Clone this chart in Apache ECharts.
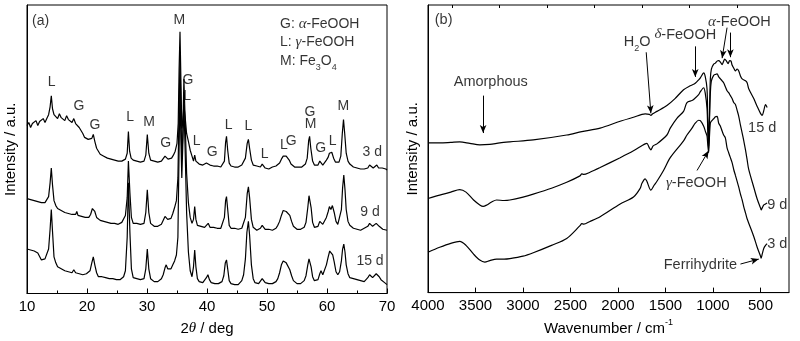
<!DOCTYPE html>
<html><head><meta charset="utf-8">
<script src="https://cdn.jsdelivr.net/npm/echarts@6/dist/echarts.min.js"></script>
<style>html,body{margin:0;padding:0;background:#fff}#c{width:800px;height:341px}</style>
</head><body><div id="c"></div>
<script>
// ---------- Panel (a): XRD, [2theta, intensity a.u.] ----------
const xrdTicks = [10, 20, 30, 40, 50, 60, 70];
const xrd3d = [[10,170],[10.3,173],[10.6,168],[10.9,172],[11.2,171],[11.5,175],[11.8,170],[12.1,174],[12.4,173],[12.7,177],[13,173],[13.3,177],[13.6,181],[13.85,189],[14.05,200],[14.25,187],[14.5,181],[14.8,182],[15.1,177],[15.4,182],[15.7,178],[16,179],[16.3,175],[16.6,180],[16.9,176],[17.2,177],[17.5,173],[17.8,177],[18.1,172],[18.4,174],[18.7,168],[19,165],[19.3,162],[19.6,158],[19.9,157],[20.2,156],[20.5,154],[20.8,157],[21.05,161],[21.3,154],[21.6,147],[21.9,144],[22.2,141],[22.5,142],[22.8,139],[23.1,140],[23.4,137],[23.7,138],[24,136],[24.3,137],[24.6,135],[24.9,136],[25.2,134],[25.5,136],[25.8,134],[26.1,135],[26.4,136],[26.7,142],[26.9,164],[27.1,144],[27.35,137],[27.7,135],[28,136],[28.3,134],[28.6,135],[28.9,133],[29.2,135],[29.5,134],[29.8,140],[30.05,161],[30.3,142],[30.6,135],[30.9,133],[31.2,134],[31.5,132],[31.8,133],[32.1,132],[32.4,134],[32.7,135],[33,139],[33.2,140],[33.5,136],[33.8,135],[34.1,137],[34.4,140],[34.7,144],[35,152],[35.2,172],[35.35,227],[35.5,265],[35.65,217],[35.8,167],[35.95,172],[36.15,191],[36.35,179],[36.6,162],[36.9,154],[37.2,145],[37.5,139],[37.75,134],[37.95,140],[38.15,134],[38.4,132],[38.7,131],[39,132],[39.3,130],[39.6,131],[39.9,132],[40.2,133],[40.5,130],[40.8,131],[41.1,129],[41.4,130],[41.7,129],[42,130],[42.3,128],[42.6,130],[42.9,134],[43.1,153],[43.25,159],[43.45,145],[43.7,132],[44,129],[44.3,130],[44.6,128],[44.9,129],[45.2,128],[45.5,129],[45.8,130],[46.1,132],[46.4,137],[46.7,152],[46.9,156],[47.1,147],[47.4,135],[47.7,130],[48,128],[48.3,129],[48.6,127],[48.9,128],[49.2,131],[49.4,129],[49.7,127],[50,128],[50.3,126],[50.6,127],[50.9,128],[51.2,127],[51.5,129],[51.8,130],[52.1,132],[52.4,136],[52.7,139],[52.95,140],[53.2,139],[53.4,140],[53.7,135],[54,131],[54.3,129],[54.6,128],[54.9,127],[55.2,128],[55.5,127],[55.8,128],[56.1,129],[56.4,131],[56.7,137],[56.95,155],[57.1,159],[57.3,147],[57.6,134],[57.9,130],[58.2,129],[58.5,130],[58.8,134],[59,133],[59.3,130],[59.6,132],[59.9,135],[60.2,138],[60.4,142],[60.6,140],[60.8,143],[61.1,137],[61.4,133],[61.7,132],[62,133],[62.3,139],[62.55,162],[62.75,176],[62.95,162],[63.2,142],[63.5,134],[63.8,131],[64.1,129],[64.4,128],[64.7,129],[65,127],[65.3,128],[65.6,126],[65.9,127],[66.2,126],[66.5,128],[66.8,127],[67.1,130],[67.4,129],[67.7,127],[68,129],[68.3,130],[68.6,127],[68.9,126],[69.2,127],[69.5,125],[69.8,126],[70,125]];
const xrd9d = [[10,96],[10.3,98],[10.6,95],[10.9,97],[11.2,94],[11.5,96],[11.8,93],[12.1,95],[12.4,92],[12.7,94],[13,92],[13.3,94],[13.6,98],[13.85,112],[14.05,127],[14.25,110],[14.5,94],[14.8,89],[15.1,86],[15.4,87],[15.7,84],[16,85],[16.3,82],[16.6,84],[16.9,81],[17.2,82],[17.5,80],[17.8,81],[18.1,80],[18.3,83],[18.5,79],[18.8,80],[19.1,78],[19.4,79],[19.7,77],[20,78],[20.3,77],[20.6,80],[20.9,86],[21.1,88],[21.3,83],[21.6,77],[21.9,75],[22.2,74],[22.5,75],[22.8,73],[23.1,74],[23.4,72],[23.7,73],[24,71],[24.3,72],[24.6,71],[24.9,72],[25.2,70],[25.5,71],[25.8,72],[26.1,74],[26.4,79],[26.7,97],[26.9,134],[27.15,102],[27.4,77],[27.7,71],[28,70],[28.3,71],[28.6,69],[28.9,70],[29.2,69],[29.5,71],[29.8,82],[30.05,105],[30.3,82],[30.6,71],[30.9,69],[31.2,68],[31.5,69],[31.8,68],[32.1,69],[32.4,70],[32.7,72],[33,78],[33.2,80],[33.45,75],[33.7,73],[34,76],[34.3,81],[34.6,87],[34.9,94],[35.15,117],[35.35,187],[35.5,237],[35.65,187],[35.8,137],[35.95,157],[36.15,217],[36.35,177],[36.6,122],[36.9,92],[37.2,77],[37.5,71],[37.75,75],[37.95,88],[38.15,75],[38.4,69],[38.7,67],[39,68],[39.3,66],[39.6,67],[39.9,69],[40.2,71],[40.5,67],[40.8,66],[41.1,67],[41.4,65],[41.7,66],[42,65],[42.3,66],[42.6,68],[42.9,77],[43.1,94],[43.25,98],[43.45,85],[43.7,69],[44,66],[44.3,65],[44.6,66],[44.9,64],[45.2,65],[45.5,64],[45.8,66],[46.1,68],[46.4,77],[46.7,101],[46.9,108],[47.1,97],[47.4,75],[47.7,67],[48,65],[48.3,64],[48.6,65],[48.9,66],[49.2,69],[49.4,68],[49.7,65],[50,64],[50.3,65],[50.6,63],[50.9,64],[51.2,65],[51.5,66],[51.8,69],[52.1,73],[52.4,79],[52.7,84],[52.95,82],[53.2,83],[53.5,84],[53.8,79],[54.1,73],[54.4,68],[54.7,66],[55,65],[55.3,66],[55.6,65],[55.9,66],[56.2,67],[56.5,72],[56.8,87],[57,99],[57.15,100],[57.35,87],[57.6,72],[57.9,67],[58.2,66],[58.5,68],[58.8,73],[59,75],[59.3,70],[59.6,71],[59.9,77],[60.2,83],[60.4,88],[60.65,85],[60.9,89],[61.2,82],[61.5,73],[61.8,70],[62.1,72],[62.4,85],[62.6,107],[62.8,120],[63,105],[63.2,85],[63.5,73],[63.8,69],[64.1,68],[64.4,66],[64.7,67],[65,65],[65.3,66],[65.6,64],[65.9,65],[66.2,66],[66.5,65],[66.8,68],[67.1,71],[67.35,72],[67.6,68],[67.9,69],[68.2,71],[68.45,72],[68.7,68],[69,66],[69.3,65],[69.6,66],[70,64]];
const xrd15d = [[10,45],[10.3,47],[10.6,44],[10.9,46],[11.2,43],[11.5,45],[11.8,41],[12.1,39],[12.4,34],[12.7,32],[13,35],[13.3,37],[13.6,45],[13.85,65],[14.05,85],[14.25,63],[14.5,37],[14.8,31],[15.1,27],[15.4,29],[15.7,25],[16,26],[16.3,23],[16.6,25],[16.9,22],[17.2,23],[17.5,21],[17.8,24],[18.1,21],[18.4,22],[18.7,20],[19,21],[19.3,19],[19.6,21],[19.9,20],[20.2,21],[20.5,23],[20.8,31],[21.05,37],[21.3,29],[21.6,21],[21.9,17],[22.2,16],[22.5,17],[22.8,15],[23.1,16],[23.4,14],[23.7,15],[24,14],[24.3,15],[24.6,13],[24.9,14],[25.2,13],[25.5,14],[25.8,15],[26.1,17],[26.4,23],[26.7,57],[26.9,112],[27.15,62],[27.4,25],[27.7,16],[28,14],[28.3,15],[28.6,13],[28.9,14],[29.2,13],[29.5,15],[29.8,25],[30.05,45],[30.3,25],[30.6,15],[30.9,13],[31.2,12],[31.5,13],[31.8,12],[32.1,13],[32.4,15],[32.7,19],[33,26],[33.2,29],[33.45,25],[33.7,23],[34,25],[34.3,29],[34.6,33],[34.9,39],[35.15,57],[35.35,147],[35.5,207],[35.65,157],[35.8,117],[35.95,147],[36.15,192],[36.35,147],[36.6,82],[36.9,42],[37.2,23],[37.5,17],[37.75,27],[37.95,44],[38.15,27],[38.4,15],[38.7,12],[39,13],[39.3,11],[39.6,12],[39.9,16],[40.15,19],[40.4,14],[40.7,11],[41,12],[41.3,10],[41.6,11],[41.9,10],[42.2,11],[42.5,12],[42.8,18],[43.05,31],[43.25,34],[43.45,25],[43.7,13],[44,10],[44.3,11],[44.6,9],[44.9,10],[45.2,9],[45.5,11],[45.8,13],[46.1,19],[46.4,35],[46.65,62],[46.9,73],[47.1,59],[47.4,29],[47.7,15],[48,11],[48.3,9],[48.6,10],[48.9,12],[49.2,15],[49.4,14],[49.7,11],[50,9],[50.3,10],[50.6,9],[50.9,10],[51.2,11],[51.5,12],[51.8,15],[52.1,21],[52.4,29],[52.7,33],[52.95,34],[53.2,31],[53.5,29],[53.8,24],[54.1,18],[54.4,13],[54.7,11],[55,10],[55.3,11],[55.6,10],[55.9,12],[56.2,13],[56.5,18],[56.8,29],[57,35],[57.15,34],[57.35,27],[57.6,17],[57.9,13],[58.2,12],[58.5,14],[58.8,20],[59,23],[59.3,19],[59.6,21],[59.9,29],[60.2,37],[60.45,43],[60.7,44],[60.95,39],[61.2,32],[61.5,22],[61.8,19],[62.1,22],[62.4,33],[62.6,45],[62.8,50],[63,42],[63.2,29],[63.5,20],[63.8,16],[64.1,14],[64.4,15],[64.7,13],[65,14],[65.3,12],[65.6,13],[65.9,11],[66.2,12],[66.5,13],[66.8,16],[67.1,19],[67.35,20],[67.6,16],[67.9,17],[68.2,20],[68.45,21],[68.7,17],[69,14],[69.3,12],[69.6,11],[70,9]];
const xrdPeakLabels = [[14.12,214,'L'],[18.67,190,'G'],[21.33,170,'G'],[27.17,179,'L'],[30.33,173,'M'],[33.12,152,'G'],[35.38,277,'M'],[36.83,216,'G'],[36.67,200,'L'],[38.28,154,'L'],[40.88,143,'G'],[43.62,170,'L'],[46.88,169,'L'],[49.62,141,'L'],[52.83,150,'L'],[54.05,154,'G'],[57.17,184,'G'],[57.28,171,'M'],[58.95,147,'G'],[60.95,154,'L'],[62.72,190,'M']];
const xrdSampleLabels = [[67.55,143,'3 d'],[67.17,82,'9 d'],[67.17,33,'15 d']];
const xrdLegend = [[52.17,273,'G: {it|α}-FeOOH'],[52.17,254,'L: {it|γ}-FeOOH'],[52.17,235,'M: Fe{sub|3}O{sub|4}'],[10.83,276,'(a)']];

// ---------- Panel (b): FTIR, [wavenumber cm-1, intensity a.u.] ----------
const irTicks = [4000,3500,3000,2500,2000,1500,1000,500];
const irMinorTicks = [3750,3250,2750,2250,1750,1250,750];
const ir15d = [[4000,152],[3877,152],[3760,152.5],[3666,153],[3560,151.5],[3455,150],[3350,150.5],[3244,152],[3138,153],[2892,155],[2540,160],[2381,163.5],[2188,167],[1977,174],[1837,178],[1714,181.5],[1670,181],[1654,180],[1635,181.5],[1590,184],[1485,190],[1400,197],[1310,206],[1240,210],[1204,211.5],[1187,212.5],[1151,216],[1133,218],[1098,223],[1081,219],[1063,207],[1054,172],[1046,149],[1038,177],[1028,217],[1017,227],[993,232],[975,233],[957,235],[940,235.5],[922,234],[904,231.5],[888,235],[877,237],[858,235],[841,232.5],[825,235.5],[810,235],[799,231],[782,228],[764,225],[746,227],[729,225],[711,220],[693,217],[658,215],[641,213],[624,207],[571,197],[535,189],[500,182],[482,180],[465,185],[447,191],[430,188]];
const ir9d = [[4000,95.5],[3877,99],[3760,102],[3666,104.5],[3600,102],[3520,94],[3455,89],[3420,87.5],[3380,89],[3330,92],[3278,94],[3200,93.5],[3138,94],[3000,97],[2892,100],[2700,106],[2540,112],[2400,118.5],[2381,120.5],[2360,120],[2300,122],[2188,127],[1977,137],[1837,144],[1750,149],[1714,151],[1696,151.5],[1670,147],[1654,145],[1630,149],[1590,151],[1485,160],[1450,167],[1380,177],[1310,184],[1274,193],[1221,195],[1204,196],[1151,201],[1133,204],[1098,208],[1081,202],[1063,187],[1054,162],[1046,147],[1038,172],[1028,202],[1017,215],[993,220.5],[975,221.5],[957,222],[940,219],[922,217],[904,215],[888,213],[870,209],[852,205],[835,203],[817,200],[799,197],[782,193],[764,191],[746,185],[729,179],[711,170],[693,162],[676,154],[658,145],[641,135],[624,125],[571,107],[535,95],[500,86],[493,84],[482,86],[465,89],[447,90],[430,91]];
const ir3d = [[4000,41],[3877,46],[3760,50],[3666,52],[3600,48],[3520,39],[3455,33],[3402,31],[3350,32.5],[3278,34],[3200,34],[3138,34.5],[3000,37],[2892,40.5],[2700,48],[2540,55],[2400,68],[2381,70],[2360,69.5],[2300,72],[2188,77],[1977,90],[1837,97],[1766,106],[1748,111],[1714,115.5],[1696,113],[1654,104],[1620,109],[1590,113],[1521,124],[1450,137],[1310,154],[1274,160],[1221,167],[1187,172],[1151,175],[1133,174.5],[1098,169],[1081,164],[1063,159],[1054,149],[1046,142],[1038,157],[1028,172],[1017,174],[993,176.5],[975,178.5],[957,179],[940,172],[922,169],[904,164],[888,160],[870,157],[852,147],[835,142],[817,137],[799,132],[782,125],[764,119],[746,113],[729,107],[711,100],[693,94],[676,87],[658,81],[641,75],[571,57],[535,46],[500,37],[493,35],[482,39],[465,45],[447,48],[430,49.5]];
const irLabels = [[3929,277,'(b)','left'],[3339,214,'Amorphous'],[1798,254,'H{sub|2}O'],[1292,262,'{it|δ}-FeOOH'],[722,275,'{it|α}-FeOOH'],[482,167,'15 d'],[1176,111,'{it|γ}-FeOOH'],[324,89,'9 d'],[324,49,'3 d'],[1133,28,'Ferrihydrite']];
const irArrows = [[3420,200,3420,162],[1703,244,1654,182],[1187,250,1187,219],[852,269,904,238],[817,264,817,239],[1168,124,1046,144],[711,29,518,34]];

// ---------- Build chart ----------
const FONT = '"Liberation Sans", Arial, sans-serif';
const rich = {
  it: {fontStyle: 'italic', fontFamily: '"Liberation Serif", serif', fontSize: 15, color: '#000'},
  sub: {fontSize: 9, lineHeight: 9, verticalAlign: 'bottom', fontFamily: FONT, color: '#000'},
  sup: {fontSize: 9, lineHeight: 9, verticalAlign: 'top', fontFamily: FONT, color: '#000'},
  n: {fontSize: 15, lineHeight: 20, fontFamily: FONT, color: '#000'}
};
function textSeries(arr, idx, size, align) {
  return {
    type: 'scatter', xAxisIndex: idx, yAxisIndex: idx, symbolSize: 1, silent: true, z: 10,
    itemStyle: {color: 'rgba(0,0,0,0)'},
    data: arr.map(d => ({value: [d[0], d[1]], name: d[2], label: {align: d[3] || align || 'center'}})),
    label: {show: true, position: 'inside', verticalAlign: 'middle', formatter: p => p.name,
      fontSize: size, lineHeight: 21, fontFamily: FONT, color: '#000', rich: rich}
  };
}
function lineSeries(data, idx, smooth) {
  return {type: 'line', xAxisIndex: idx, yAxisIndex: idx, data: data, showSymbol: false, symbol: 'none',
    smooth: smooth || false, silent: true, lineStyle: {color: '#000', width: 1.2}, z: 3};
}
const blk = {color: '#000'};
const chart = echarts.init(document.getElementById('c'), null, {renderer: 'canvas'});
const irText = textSeries(irLabels, 1, 14.5);
irText.markLine = {
  silent: true, symbol: ['none', 'arrow'], symbolSize: [5, 8], label: {show: false},
  lineStyle: {color: '#000', width: 1, type: 'solid'}, emphasis: {disabled: true},
  data: irArrows.map(a => [{coord: [a[0], a[1]]}, {coord: [a[2], a[3]]}])
};
chart.setOption({
  animation: false,
  backgroundColor: '#fff',
  grid: [
    {left: 27, top: 5, width: 360, height: 292, show: true, borderColor: '#000', borderWidth: 1},
    {left: 428, top: 5, width: 361, height: 292, show: true, borderColor: '#000', borderWidth: 1}
  ],
  xAxis: [
    {gridIndex: 0, type: 'value', min: xrdTicks[0], max: xrdTicks[xrdTicks.length - 1], interval: 10,
      axisLine: {show: true, lineStyle: blk}, axisTick: {show: true, inside: true, length: 5, lineStyle: blk},
      minorTick: {show: true, splitNumber: 2, length: 3, lineStyle: blk},
      axisLabel: {color: '#000', fontSize: 15, fontFamily: FONT, margin: 6},
      splitLine: {show: false}, minorSplitLine: {show: false},
      name: '{n|2}{it|θ}{n| / deg}', nameLocation: 'middle', nameGap: 25,
      nameTextStyle: {rich: rich, fontSize: 15, fontFamily: FONT, color: '#000'}},
    {gridIndex: 1, type: 'value', inverse: true, min: 200, max: 4000,
      axisLine: {show: true, lineStyle: blk},
      axisTick: {show: true, inside: true, length: 5, lineStyle: blk, customValues: irTicks},
      axisLabel: {color: '#000', fontSize: 15, fontFamily: FONT, margin: 6, customValues: irTicks,
        formatter: v => String(Math.round(v))},
      splitLine: {show: false},
      name: '{n|Wavenumber / cm}{sup|-1}', nameLocation: 'middle', nameGap: 25,
      nameTextStyle: {rich: rich, fontSize: 15, fontFamily: FONT, color: '#000'}},
    {gridIndex: 1, type: 'value', inverse: true, min: 200, max: 4000,
      axisLine: {show: false},
      axisTick: {show: true, inside: true, length: 3, lineStyle: blk, customValues: irMinorTicks},
      axisLabel: {show: false}, splitLine: {show: false}}
  ],
  yAxis: [
    {gridIndex: 0, type: 'value', min: 0, max: 292, axisLine: {show: true, lineStyle: blk},
      axisTick: {show: false}, axisLabel: {show: false}, splitLine: {show: false},
      name: 'Intensity / a.u.', nameLocation: 'middle', nameGap: 9,
      nameTextStyle: {fontSize: 15, fontFamily: FONT, color: '#000'}},
    {gridIndex: 1, type: 'value', min: 0, max: 292, axisLine: {show: true, lineStyle: blk},
      axisTick: {show: false}, axisLabel: {show: false}, splitLine: {show: false},
      name: 'Intensity / a.u.', nameLocation: 'middle', nameGap: 8,
      nameTextStyle: {fontSize: 15, fontFamily: FONT, color: '#000'}}
  ],
  series: [
    lineSeries(xrd3d, 0), lineSeries(xrd9d, 0), lineSeries(xrd15d, 0),
    textSeries(xrdPeakLabels, 0, 14), textSeries(xrdSampleLabels, 0, 14), textSeries(xrdLegend, 0, 14, 'left'),
    lineSeries(ir15d, 1, 0.3), lineSeries(ir9d, 1, 0.3), lineSeries(ir3d, 1, 0.3),
    irText
  ]
});
</script></body></html>
